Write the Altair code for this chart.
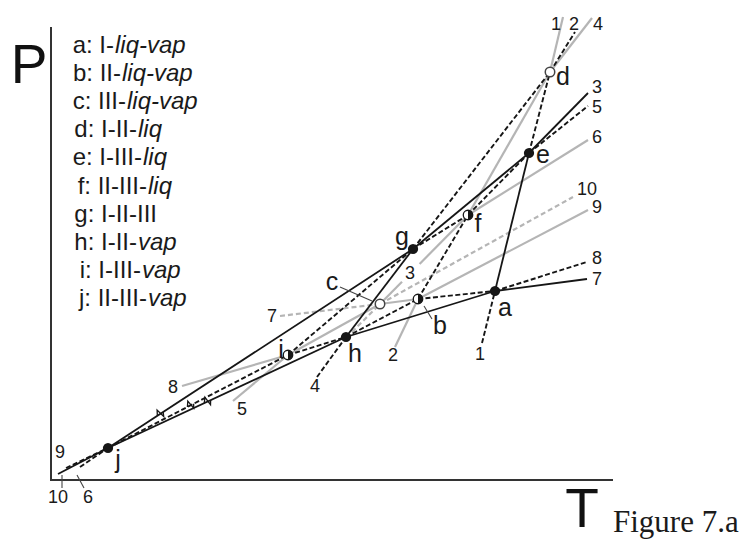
import altair as alt
import pandas as pd

# ---------------- data: triple points (T, P in diagram units) ----------------
pt_name = ["a", "b", "c", "d", "e", "f", "g", "h", "i", "j"]
pt_T = [444, 367, 329, 499, 478, 417, 362, 295, 237, 57]
pt_P = [189, 181, 176, 408, 327, 265, 231, 143, 125, 32]
pt_kind = ["stable", "half", "open", "open", "stable", "half", "stable", "stable", "half", "stable"]

# ---------------- data: free ends of the ten two-phase curves ----------------
end_name = ["B1", "T1", "B2", "T2", "T3", "C3", "B4", "T4", "B5", "T5", "L6", "T6",
            "L7", "R7", "L8", "R8", "L9", "R9", "L10", "R10"]
end_T = [431, 512, 344, 524, 537, 301, 266, 541, 182, 537, 29, 537,
         229, 536, 131, 536, 15, 537, 7, 522]
end_P = [137, 463, 133, 448, 387, 148, 103, 462, 79, 374, 13, 340,
         164, 201, 94, 218, 12, 270, 6, 283]

# ---------------- curve pieces: (curve, from, to, style, t0, t1) ----------------
segments = [
    (1, "B1", "a", "dash", 0, 1), (1, "a", "e", "solid", 0, 1), (1, "e", "d", "dash", 0, 1), (1, "d", "T1", "grey", 0, 1),
    (2, "B2", "b", "grey", 0, 1), (2, "b", "f", "dash", 0, 1), (2, "f", "d", "grey", 0, 1), (2, "d", "T2", "dash", 0, 1),
    (3, "C3", "c", "greydash", 0, 1), (3, "c", "f", "grey", 0, 0.25), (3, "c", "f", "grey", 0.45, 1),
    (3, "f", "e", "dash", 0, 1), (3, "e", "T3", "solid", 0, 1),
    (4, "B4", "h", "dash", 0, 1), (4, "h", "g", "solid", 0, 1), (4, "g", "d", "dash", 0, 1), (4, "d", "T4", "grey", 0, 1),
    (5, "B5", "i", "grey", 0, 1), (5, "i", "g", "dash", 0, 1), (5, "g", "e", "solid", 0, 1), (5, "e", "T5", "dash", 0, 1),
    (6, "L6", "j", "dash", 0, 1), (6, "j", "g", "solid", 0, 1), (6, "g", "f", "dash", 0, 1), (6, "f", "T6", "grey", 0, 1),
    (7, "L7", "c", "greydash", 0, 1), (7, "c", "b", "grey", 0, 1), (7, "b", "a", "dash", 0, 1), (7, "a", "R7", "solid", 0, 1),
    (8, "L8", "i", "grey", 0, 1), (8, "i", "h", "dash", 0, 1), (8, "h", "a", "solid", 0, 1), (8, "a", "R8", "dash", 0, 1),
    (9, "L9", "j", "dash", 0, 1), (9, "j", "h", "solid", 0, 1), (9, "h", "b", "dash", 0, 1), (9, "b", "R9", "grey", 0, 1),
    (10, "L10", "j", "solid", 0, 1), (10, "j", "i", "dash", 0, 1), (10, "i", "c", "grey", 0, 1), (10, "c", "R10", "greydash", 0, 1),
]

# break symbols on the stable curves near j: (from, to, fraction)
brk_from = ["j", "j", "j"]
brk_to = ["g", "i", "h"]
brk_t = [0.17, 0.456, 0.416]

# ---------------- labels ----------------
num_lab = ["1", "2", "4", "3", "5", "6", "10", "9", "8", "7",
           "1", "2", "4", "7", "3", "8", "5", "9", "10", "6"]
num_T = [505, 523, 547, 546, 546, 546, 536, 546, 546, 546,
         429, 342, 264, 221, 359, 122, 191, 9, 7, 37]
num_P = [455, 455, 455, 392, 372, 342, 290, 272, 221, 200,
         125, 124, 93, 163, 206, 92, 70, 27, -18, -18]

let_T = [454, 389, 281, 512, 492, 427, 351, 304, 230, 67]
let_P = [172, 154, 198, 403, 325, 256, 243, 126, 130, 20]

leader_T0 = [289, 373, 11, 33]
leader_P0 = [193, 174, -8, -8]
leader_T1 = [321, 381, 11, 26]
leader_P1 = [179, 161, 5, 5]

leg_plain = ["a: I-", "b: II-", "c: III-", "d: I-II-", "e: I-III-", "f: II-III-",
             "g: I-II-III", "h: I-II-", "i: I-III-", "j: II-III-"]
leg_ital = ["liq-vap", "liq-vap", "liq-vap", "liq", "liq", "liq", "", "vap", "vap", "vap"]
leg_split_T = [63, 70, 75, 86, 91, 96, 106, 86, 90, 96]
leg_base_P = [427 - 28.1 * k for k in range(10)]

axis_T = [0, 0, 562]
axis_P = [453, 0, 0]

# ---------------- build tables ----------------
pos = {n: (t, p) for n, t, p in zip(pt_name, pt_T, pt_P)}
pos.update({n: (t, p) for n, t, p in zip(end_name, end_T, end_P)})


def lerp(p0, p1, t):
    return (p0[0] + (p1[0] - p0[0]) * t, p0[1] + (p1[1] - p0[1]) * t)


rows = []
for k, (cv, fa, fb, st, t0, t1) in enumerate(segments):
    q0 = lerp(pos[fa], pos[fb], t0)
    q1 = lerp(pos[fa], pos[fb], t1)
    rows.append(dict(seg=k, ord=0, T=q0[0], P=q0[1], style=st))
    rows.append(dict(seg=k, ord=1, T=q1[0], P=q1[1], style=st))
seg_df = pd.DataFrame(rows)

zz = []
for k, (fa, fb, t) in enumerate(zip(brk_from, brk_to, brk_t)):
    p0, p1 = pos[fa], pos[fb]
    dx, dy = p1[0] - p0[0], p1[1] - p0[1]
    ln = (dx * dx + dy * dy) ** 0.5
    ux, uy = dx / ln, dy / ln
    nx, ny = -uy, ux
    c = lerp(p0, p1, t)
    pts = [(c[0] - 3 * ux, c[1] - 3 * uy),
           (c[0] + 5 * nx, c[1] + 5 * ny),
           (c[0] + 2 * ux - 4 * nx, c[1] + 2 * uy - 4 * ny),
           (c[0] + 4 * ux, c[1] + 4 * uy)]
    for o, (x, y) in enumerate(pts):
        zz.append(dict(seg=k, ord=o, T=x, P=y))
zz_df = pd.DataFrame(zz)

pts_df = pd.DataFrame(dict(name=pt_name, T=pt_T, P=pt_P, kind=pt_kind))
num_df = pd.DataFrame(dict(lab=num_lab, T=num_T, P=num_P))
let_df = pd.DataFrame(dict(lab=pt_name, T=let_T, P=let_P))
lead_rows = []
for k in range(len(leader_T0)):
    lead_rows.append(dict(seg=k, ord=0, T=leader_T0[k], P=leader_P0[k]))
    lead_rows.append(dict(seg=k, ord=1, T=leader_T1[k], P=leader_P1[k]))
lead_df = pd.DataFrame(lead_rows)
leg_df = pd.DataFrame(dict(plain=leg_plain, ital=leg_ital, T=leg_split_T, P=leg_base_P))
axis_df = pd.DataFrame(dict(T=axis_T, P=axis_P, ord=[0, 1, 2]))

xs = alt.Scale(domain=[-43, 695], nice=False, zero=False)
ys = alt.Scale(domain=[-59, 472], nice=False, zero=False)
X = alt.X("T:Q", scale=xs, axis=None)
Y = alt.Y("P:Q", scale=ys, axis=None)

GREY = "#b5b5b5"
BLACK = "#161616"
FONT = "Liberation Sans"


def lines(style, **kw):
    return alt.Chart(seg_df[seg_df["style"] == style]).mark_line(**kw).encode(
        x=X, y=Y, detail="seg:N", order="ord:Q")


axis_layer = alt.Chart(axis_df).mark_line(color="#333333", strokeWidth=2).encode(x=X, y=Y, order="ord:Q")
grey_l = lines("grey", color=GREY, strokeWidth=2.2)
greyd_l = lines("greydash", color=GREY, strokeWidth=2.2, strokeDash=[5, 3])
dash_l = lines("dash", color=BLACK, strokeWidth=1.9, strokeDash=[5, 2.5])
solid_l = lines("solid", color=BLACK, strokeWidth=1.8)
zz_l = alt.Chart(zz_df).mark_line(color=BLACK, strokeWidth=1.3).encode(x=X, y=Y, detail="seg:N", order="ord:Q")
lead_l = alt.Chart(lead_df).mark_line(color="#444444", strokeWidth=1.1).encode(x=X, y=Y, detail="seg:N", order="ord:Q")

stable_p = alt.Chart(pts_df[pts_df["kind"] == "stable"]).mark_point(
    shape="circle", filled=True, color=BLACK, size=105, opacity=1).encode(x=X, y=Y)
half_base = alt.Chart(pts_df[pts_df["kind"] == "half"]).mark_point(
    shape="circle", filled=True, fill="white", stroke=BLACK, strokeWidth=1.3, size=90, opacity=1).encode(x=X, y=Y)
half_fill = alt.Chart(pts_df[pts_df["kind"] == "half"]).mark_point(
    shape="M0,-1A1,1,0,0,1,0,1Z", filled=True, color=BLACK, size=90, opacity=1).encode(x=X, y=Y)
open_p = alt.Chart(pts_df[pts_df["kind"] == "open"]).mark_point(
    shape="circle", filled=True, fill="white", stroke="#444444", strokeWidth=1.5, size=90, opacity=1).encode(x=X, y=Y)

num_t = alt.Chart(num_df).mark_text(font=FONT, fontSize=18, color="#1a1a1a", align="center",
                                    baseline="middle").encode(x=X, y=Y, text="lab:N")
let_t = alt.Chart(let_df).mark_text(font=FONT, fontSize=25, color="#1a1a1a", align="center",
                                    baseline="middle").encode(x=X, y=Y, text="lab:N")
leg_a = alt.Chart(leg_df).mark_text(font=FONT, fontSize=24, color="#1a1a1a", align="right",
                                    baseline="alphabetic").encode(x=X, y=Y, text="plain:N")
leg_b = alt.Chart(leg_df).mark_text(font=FONT, fontSize=24, color="#1a1a1a", align="left",
                                    baseline="alphabetic", fontStyle="italic", dx=1).encode(x=X, y=Y, text="ital:N")

ax_df = pd.DataFrame(dict(lab=["P", "T"], T=[-22, 531], P=[397, -47]))
ax_t = alt.Chart(ax_df).mark_text(font=FONT, fontSize=55, color="#111111", align="center",
                                  baseline="alphabetic").encode(x=X, y=Y, text="lab:N")
fig_df = pd.DataFrame(dict(lab=["Figure 7.a"], T=[562], P=[-52]))
fig_t = alt.Chart(fig_df).mark_text(font="Liberation Serif", fontSize=31, color="#1a1a1a", align="left",
                                    baseline="alphabetic").encode(x=X, y=Y, text="lab:N")

chart = alt.layer(
    axis_layer, grey_l, greyd_l, dash_l, solid_l, zz_l, lead_l,
    stable_p, half_base, half_fill, open_p,
    num_t, let_t, leg_a, leg_b, ax_t, fig_t,
).properties(width=738, height=531, padding=0, autosize="none").configure_view(stroke=None)

chart.save("out.html", embed_options={"renderer": "svg", "actions": False})
